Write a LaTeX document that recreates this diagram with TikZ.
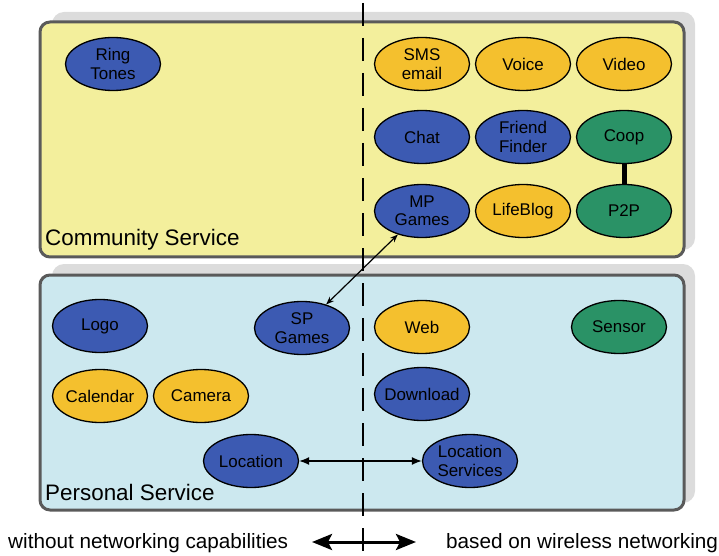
\documentclass[tikz,border=0pt]{standalone}
\usepackage{fontspec}
\setmainfont{Liberation Sans}
\usepackage{tikz}
\usetikzlibrary{arrows.meta,positioning,shapes.geometric}
\pgfdeclarelayer{bg}
\pgfsetlayers{bg,main}
\usepackage{color}
\definecolor{commyellow}{RGB}{243,239,156}
\definecolor{persblue}{RGB}{204,232,239}
\definecolor{svcblue}{RGB}{60,90,178}
\definecolor{svcyellow}{RGB}{244,192,46}
\definecolor{svcgreen}{RGB}{42,146,102}
\definecolor{frame}{RGB}{90,90,90}
\definecolor{shade}{RGB}{220,220,220}

\begin{document}
\begin{tikzpicture}[x=1bp,y=-1bp,
    svc/.style={ellipse,draw=black,line width=1.3bp,minimum width=95bp,minimum height=53bp,
      inner sep=0pt,align=center,font=\fontsize{17}{18.5}\selectfont},
    bsvc/.style={svc,fill=svcblue},
    ysvc/.style={svc,fill=svcyellow},
    gsvc/.style={svc,fill=svcgreen},
    panel/.style={draw=frame,line width=3bp,rounded corners=10bp},
    panelshade/.style={fill=shade,rounded corners=12bp}]
    \useasboundingbox (0,0) rectangle (719,556);

    % community service
    \node [bsvc] (ring) at (113,64) {Ring\\Tones};
    \node [ysvc] (sms) at (422,64) {SMS\\email};
    \node [ysvc] (voice) at (523,64) {Voice};
    \node [ysvc] (video) at (624,64) {Video};
    \node [bsvc] (chat) at (422,137) {Chat};
    \node [bsvc] (friend) at (523,137) {Friend\\Finder};
    \node [gsvc] (coop) at (624,137) {Coop};
    \node [bsvc] (mpgames) at (422,211) {MP\\Games};
    \node [ysvc] (lifeblog) at (523,211) {LifeBlog};
    \node [gsvc] (p2p) at (624,211) {P2P};

    % personal service
    \node [bsvc] (logo) at (100,326) {Logo};
    \node [bsvc] (spgames) at (302,328) {SP\\Games};
    \node [ysvc] (web) at (422,327) {Web};
    \node [gsvc] (sensor) at (619,327) {Sensor};
    \node [ysvc,inner xsep=-4bp] (calendar) at (100,396) {Calendar};
    \node [ysvc] (camera) at (201,396) {Camera};
    \node [bsvc,inner xsep=-8bp] (download) at (422,394) {Download};
    \node [bsvc] (location) at (251,461) {Location};
    \node [bsvc] (locserv) at (470,461) {Location\\Services};

    \node [anchor=base west,inner sep=0pt,font=\fontsize{22.5}{24}\selectfont] (comm) at (45,246) {Community Service};
    \node [anchor=base west,inner sep=0pt,font=\fontsize{22.5}{24}\selectfont] (pers) at (45,500) {Personal Service};

    \node [anchor=base west,inner sep=0pt,font=\fontsize{20.8}{22}\selectfont] (without) at (8,548) {without networking capabilities};
    \node [anchor=base west,inner sep=0pt,font=\fontsize{20.8}{22}\selectfont] (based) at (446,548) {based on wireless networking};

    \draw [line width=5bp] (coop) -- (p2p);
    \draw [{Stealth[length=8bp,width=6bp]}-{Stealth[length=8bp,width=6bp]},line width=1.2bp] (mpgames) -- (spgames);
    \draw [{Latex[length=10bp,width=8bp]}-{Latex[length=10bp,width=8bp]},line width=1.5bp] (location) -- (locserv);

    \coordinate (left) at (312,542);
    \coordinate (right) at (416,542);
    \draw [{Stealth[length=20bp,width=16bp,inset=4bp]}-{Stealth[length=20bp,width=16bp,inset=4bp]},line width=3bp] (left) -- (right);

    \coordinate (top) at (363,3);
    \coordinate (bottom) at (363,556);
    \draw [line width=2.5bp,dash pattern=on 23bp off 12bp] (top) -- (bottom);

    \begin{pgfonlayer}{bg}    % panels behind the services
      \fill [panelshade] (52,12) rectangle (695,250);
      \draw [panel,fill=commyellow] (40,22) rectangle (684,257);
      \fill [panelshade] (52,264) rectangle (695,503);
      \draw [panel,fill=persblue] (40,275) rectangle (684,510);
    \end{pgfonlayer}
  \end{tikzpicture}
\end{document}
